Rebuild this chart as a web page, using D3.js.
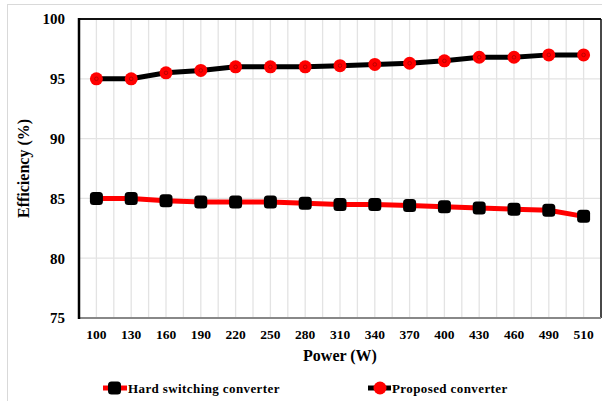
<!DOCTYPE html>
<html><head><meta charset="utf-8">
<script src="https://cdn.jsdelivr.net/npm/d3@7"></script>
<style>body{margin:0;background:#fff}svg{display:block}text{font-family:"Liberation Serif","DejaVu Serif",serif;font-weight:bold;fill:#000}</style>
</head><body>
<script>
const categories = ["100","130","160","190","220","250","280","310","340","370","400","430","460","490","510"];
const hardSwitching = [85,85,84.8,84.7,84.7,84.7,84.6,84.5,84.5,84.4,84.3,84.2,84.1,84.0,83.5];
const proposed = [95,95,95.5,95.7,96,96,96,96.1,96.2,96.3,96.5,96.8,96.8,97,97];
const yTicks = [75,80,85,90,95,100];

const W=602,H=401;
const FONT='"Liberation Serif","DejaVu Serif",serif';
const svg=d3.select("body").append("svg").attr("width",W).attr("height",H);
const m={l:79,r:601,t:19,b:318};
svg.append("rect").attr("x",7.5).attr("y",4.5).attr("width",W+10).attr("height",H+10).attr("fill","none").attr("stroke","#d9d9d9").attr("stroke-width",1);

const x=d3.scaleBand().domain(categories).range([m.l,m.r]).padding(0);
const y=d3.scaleLinear().domain([75,100]).range([m.b,m.t]);

const g=svg.append("g");
const vx=[];
categories.forEach(c=>{vx.push(x(c)+x.bandwidth()/2); vx.push(x(c)+x.bandwidth());});
g.selectAll("line.v").data(vx).join("line").attr("x1",d=>d).attr("x2",d=>d).attr("y1",m.t).attr("y2",m.b).attr("stroke","#e3e3e3").attr("stroke-width",1.3);
g.selectAll("line.h").data(yTicks.slice(1,-1)).join("line").attr("x1",m.l).attr("x2",m.r).attr("y1",d=>y(d)).attr("y2",d=>y(d)).attr("stroke","#e3e3e3").attr("stroke-width",1.3);

svg.append("line").attr("x1",m.l).attr("x2",m.r).attr("y1",m.t).attr("y2",m.t).attr("stroke","#111").attr("stroke-width",2);
svg.append("line").attr("x1",m.r).attr("x2",m.r).attr("y1",m.t).attr("y2",m.b).attr("stroke","#111").attr("stroke-width",1.5);
svg.append("line").attr("x1",m.l).attr("x2",m.r).attr("y1",m.b).attr("y2",m.b).attr("stroke","#888").attr("stroke-width",2);
svg.append("line").attr("x1",m.l).attr("x2",m.l).attr("y1",m.t-1).attr("y2",m.b+1).attr("stroke","#000").attr("stroke-width",2.5);

const ya=svg.append("g").attr("transform",`translate(${m.l},0)`).call(d3.axisLeft(y).tickValues(yTicks).tickSize(0).tickPadding(14));
ya.select(".domain").remove();
ya.selectAll("text").style("font-size","15px").style("font-family",FONT).style("font-weight","bold").style("fill","#000");
const xa=svg.append("g").attr("transform",`translate(0,${m.b})`).call(d3.axisBottom(x).tickSize(0).tickPadding(11));
xa.select(".domain").remove();
xa.selectAll("text").style("font-size","13.5px").style("font-family",FONT).style("font-weight","bold").style("fill","#000");

svg.append("text").attr("x",(m.l+m.r)/2).attr("y",361).attr("text-anchor","middle").style("font-size","16px").text("Power (W)");
svg.append("text").attr("transform",`translate(29,${(m.t+m.b)/2}) rotate(-90)`).attr("text-anchor","middle").style("font-size","16px").text("Efficiency (%)");

const cx=c=>x(c)+x.bandwidth()/2;
const line=d3.line().x((d,i)=>cx(categories[i])).y(d=>y(d));

svg.append("path").datum(hardSwitching).attr("d",line).attr("fill","none").attr("stroke","#ff0000").attr("stroke-width",5);
svg.selectAll("rect.hs").data(hardSwitching).join("rect").attr("x",(d,i)=>cx(categories[i])-6.5).attr("y",d=>y(d)-6.5).attr("width",13).attr("height",13).attr("rx",3.5).attr("fill","#000");

svg.append("path").datum(proposed).attr("d",line).attr("fill","none").attr("stroke","#000").attr("stroke-width",5);
svg.selectAll("circle.p").data(proposed).join("circle").attr("cx",(d,i)=>cx(categories[i])).attr("cy",d=>y(d)).attr("r",6.5).attr("fill","#ff0000");
svg.selectAll("circle.pd").data(proposed).join("circle").attr("cx",(d,i)=>cx(categories[i])).attr("cy",d=>y(d)).attr("r",1.8).attr("fill","none").attr("stroke","#a00000").attr("stroke-width",0.7);

const ly=388;
const l1=svg.append("g");
l1.append("line").attr("x1",103).attr("x2",127).attr("y1",ly).attr("y2",ly).attr("stroke","#ff0000").attr("stroke-width",5);
l1.append("rect").attr("x",108).attr("y",ly-6.5).attr("width",13).attr("height",13).attr("rx",3.5).attr("fill","#000");
l1.append("text").attr("x",128).attr("y",ly+5).style("font-size","13px").style("letter-spacing","0.4px").text("Hard switching converter");
const l2=svg.append("g");
l2.append("line").attr("x1",368).attr("x2",391).attr("y1",ly).attr("y2",ly).attr("stroke","#000").attr("stroke-width",5);
l2.append("circle").attr("cx",380).attr("cy",ly).attr("r",6.5).attr("fill","#ff0000");
l2.append("text").attr("x",392).attr("y",ly+5).style("font-size","13px").style("letter-spacing","0.4px").text("Proposed converter");
</script>
</body></html>
